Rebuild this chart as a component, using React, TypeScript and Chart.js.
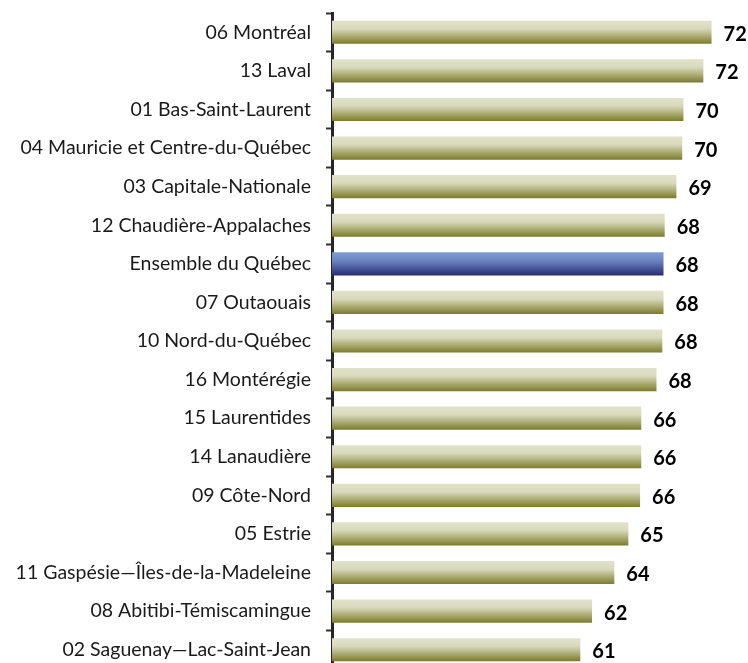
import React, { useEffect, useRef } from "react";
import { Chart, registerables } from "chart.js";

Chart.register(...registerables);

const regions = [
  "06 Montréal",
  "13 Laval",
  "01 Bas-Saint-Laurent",
  "04 Mauricie et Centre-du-Québec",
  "03 Capitale-Nationale",
  "12 Chaudière-Appalaches",
  "Ensemble du Québec",
  "07 Outaouais",
  "10 Nord-du-Québec",
  "16 Montérégie",
  "15 Laurentides",
  "14 Lanaudière",
  "09 Côte-Nord",
  "05 Estrie",
  "11 Gaspésie—Îles-de-la-Madeleine",
  "08 Abitibi-Témiscamingue",
  "02 Saguenay—Lac-Saint-Jean",
];

const values = [72.4, 71.7, 70.0, 69.9, 69.4, 68.4, 68.3, 68.3, 68.2, 67.7, 66.4, 66.4, 66.3, 65.3, 64.1, 62.2, 61.2];

const highlightLabel = "Ensemble du Québec";

const axisMin = 40;
const axisMax = 75;

export default function App() {
  const ref = useRef<HTMLCanvasElement | null>(null);

  useEffect(() => {
    if (!ref.current) return;

    const gradFor = (c: any) => {
      const chart = c.chart;
      const idx = c.dataIndex;
      const isHi = regions[idx] === highlightLabel;
      const fallback = isHi ? "#4a5fa8" : "#b0b07a";
      const ys = chart.scales && chart.scales.y;
      if (!ys || idx === undefined || !chart.chartArea) return fallback;
      const cy = ys.getPixelForValue(idx);
      const half = (ys.height / regions.length) * 0.6 / 2;
      const g = chart.ctx.createLinearGradient(0, cy - half, 0, cy + half);
      if (isHi) {
        g.addColorStop(0, "#809cd2");
        g.addColorStop(0.4, "#6781c0");
        g.addColorStop(1, "#2a2b72");
      } else {
        g.addColorStop(0, "#e1e2ca");
        g.addColorStop(0.35, "#d8d9bc");
        g.addColorStop(0.75, "#a0a062");
        g.addColorStop(1, "#7b7b2b");
      }
      return g;
    };

    const valueLabels = {
      id: "valueLabels",
      afterDatasetsDraw(chart: any) {
        const ctx = chart.ctx;
        const meta = chart.getDatasetMeta(0);
        ctx.save();
        ctx.font = "bold 20px Lato";
        ctx.fillStyle = "#000000";
        ctx.textBaseline = "middle";
        ctx.textAlign = "left";
        meta.data.forEach((el: any, i: number) => {
          ctx.fillText(String(Math.round(values[i])), el.x + 12, el.y + 2);
        });
        ctx.restore();
      },
    };

    const chart = new Chart(ref.current, {
      type: "bar",
      data: {
        labels: regions,
        datasets: [
          {
            data: values,
            backgroundColor: gradFor,
            borderWidth: 0,
            barPercentage: 0.6,
            categoryPercentage: 1,
          },
        ],
      },
      options: {
        indexAxis: "y",
        animation: false,
        responsive: false,
        maintainAspectRatio: false,
        layout: { padding: { left: 0, right: 6, top: 13, bottom: 0 } },
        plugins: {
          legend: { display: false },
          tooltip: { enabled: false },
        },
        scales: {
          x: {
            display: false,
            min: axisMin,
            max: axisMax,
          },
          y: {
            afterFit: (axis: any) => {
              axis.width = 332;
              axis.paddingTop = 0;
              axis.paddingBottom = 0;
            },
            border: { display: true, color: "#262626", width: 3 },
            grid: {
              display: true,
              drawOnChartArea: false,
              drawTicks: true,
              tickLength: 6,
              tickWidth: 2,
              color: "#333333",
              offset: true,
            },
            ticks: {
              color: "#1a1a1a",
              font: { family: "Lato", size: 19.5 },
              padding: 15,
            },
          },
        },
      },
      plugins: [valueLabels],
    });

    return () => chart.destroy();
  }, []);

  return (
    <div style={{ position: "fixed", left: 0, top: 0, width: 748, height: 669, background: "#fff" }}>
      <canvas ref={ref} width={748} height={669} style={{ width: 748, height: 669 }} />
    </div>
  );
}
